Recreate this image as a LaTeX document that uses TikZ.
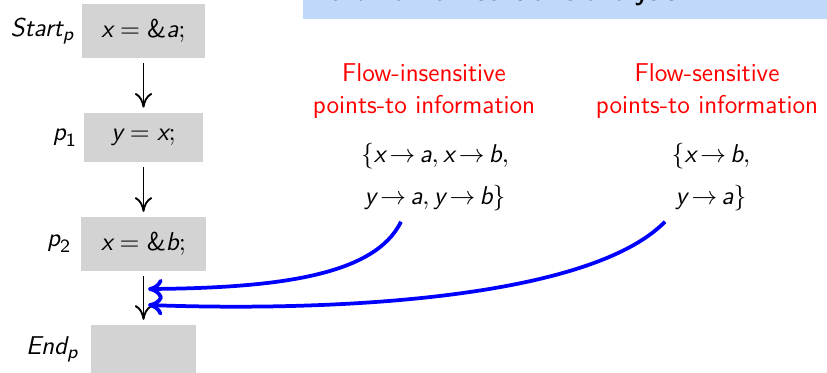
\documentclass[tikz,border=0pt]{standalone}
\usetikzlibrary{arrows.meta,positioning,calc}
\definecolor{stmtgray}{HTML}{D3D3D3}
\definecolor{bannerblue}{HTML}{C0D8FA}
% sans italic letters inside math
\newcommand\vr[1]{\mbox{\sffamily\itshape #1}}
\newcommand\vrsub[1]{\mbox{\sffamily\footnotesize #1}}
\tikzset{
  % grey statement boxes of the CFG
  stmt/.style  = {rectangle, fill=stmtgray, inner sep=0pt},
  plbl/.style  = {inner sep=0pt},
  flow/.style  = {-{To[length=2.2mm,width=2.6mm]}, thick, black,
                  shorten <=2pt, shorten >=2pt},
  ptsto/.style = {-{To[length=2.2mm,width=3mm]}, blue, line width=1.6pt},
  head/.style  = {text=red, align=center, inner sep=0pt},
  pset/.style  = {align=center, inner sep=0pt},
}

\begin{document}
\begin{tikzpicture}[x=0.015cm,y=-0.015cm,
    font=\sffamily\fontsize{11}{14}\selectfont]
\useasboundingbox (0,0) rectangle (827,373);
% banner, cut by the page edge
\fill[bannerblue] (303,-60) rectangle (840,19);
\node[anchor=base west, inner sep=0pt, font=\sffamily\bfseries\fontsize{11.2}{14}\selectfont]
  (title) at (330,1) {than a flow-sensitive analysis};
% control flow graph
\node[stmt, minimum width=1.83cm, minimum height=0.81cm] (b1) at (143.5,31) {$\vr{x} = \mbox{\&}\vr{a};$};
\node[stmt, minimum width=1.79cm, minimum height=0.74cm] (b2) at (143.5,137.5) {$\vr{y} = \vr{x};$};
\node[stmt, minimum width=1.86cm, minimum height=0.81cm] (b3) at (143.5,244) {$\vr{x} = \mbox{\&}\vr{b};$};
\node[stmt, minimum width=1.58cm, minimum height=0.72cm] (b4) at (143.5,349) {};
\node[plbl, left=0.11cm of b1] (l1) {$\vr{Start}_{\vrsub{\itshape p}}$};
\node[plbl, left=0.09cm of b2] (l2) {$\vr{p}_{\vrsub{1}}$};
\node[plbl, left=0.14cm of b3] (l3) {$\vr{p}_{\vrsub{2}}$};
\node[plbl, left=0.17cm of b4] (l4) {$\vr{End}_{\vrsub{\itshape p}}$};
\draw[flow] (b1) -- (b2);
\draw[flow] (b2) -- (b3);
\draw[flow] (b3.south) -- (b4.north);
% points-to information
\node[head] (fihead) at (424,91) {Flow-insensitive\\points-to information};
\node[head] (fshead) at (707,91) {Flow-sensitive\\points-to information};
\node[pset] (fiset) at (435,177)
  {$\big\{\vr{x}{\,\to\,}\vr{a}, \vr{x}{\,\to\,}\vr{b},$\\[4pt]$\vr{y}{\,\to\,}\vr{a}, \vr{y}{\,\to\,}\vr{b}\big\}$};
\node[pset] (fsset) at (711,177)
  {$\big\{\vr{x}{\,\to\,}\vr{b},$\\[4pt]$\vr{y}{\,\to\,}\vr{a}\big\}$};
\coordinate (e1) at (148,289);
\coordinate (e2) at (148,305);
\draw[ptsto] ([shift={(-34,0)}]fiset.south) ++(0,10)
  .. controls (375,275) and (280,288) .. (e1);
\draw[ptsto] ([shift={(-46,0)}]fsset.south) ++(0,10)
  .. controls (590,298) and (340,312) .. (e2);
\end{tikzpicture}
\end{document}
